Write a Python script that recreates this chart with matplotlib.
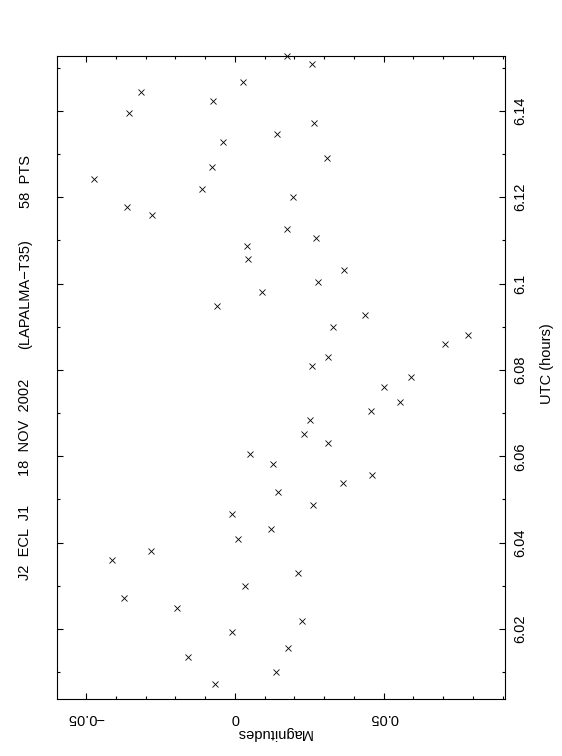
import matplotlib
matplotlib.use("Agg")
import matplotlib.pyplot as plt
from matplotlib.ticker import MultipleLocator

# light curve points (UTC hours, magnitudes)
utc = [6.0073, 6.0100, 6.0134, 6.0156, 6.0192, 6.0219, 6.0248, 6.0272, 6.0300, 6.0330,
       6.0359, 6.0381, 6.0408, 6.0431, 6.0466, 6.0487, 6.0517, 6.0539, 6.0556, 6.0583,
       6.0605, 6.0630, 6.0652, 6.0683, 6.0706, 6.0725, 6.0761, 6.0783, 6.0809, 6.0831,
       6.0861, 6.0880, 6.0900, 6.0927, 6.0947, 6.0980, 6.1003, 6.1032, 6.1056, 6.1086,
       6.1105, 6.1127, 6.1158, 6.1178, 6.1200, 6.1219, 6.1242, 6.1270, 6.1291, 6.1328,
       6.1347, 6.1371, 6.1395, 6.1422, 6.1444, 6.1466, 6.1508, 6.1528]
mag = [-0.0066, 0.0139, -0.0156, 0.0178, -0.0010, 0.0226, -0.0196, -0.0374, 0.0034, 0.0211,
       -0.0412, -0.0283, 0.0011, 0.0120, -0.0009, 0.0262, 0.0146, 0.0362, 0.0462, 0.0127,
       0.0051, 0.0314, 0.0231, 0.0252, 0.0456, 0.0556, 0.0502, 0.0591, 0.0260, 0.0312,
       0.0705, 0.0784, 0.0330, 0.0438, -0.0061, 0.0091, 0.0281, 0.0366, 0.0045, 0.0041,
       0.0273, 0.0176, -0.0277, -0.0363, 0.0196, -0.0111, -0.0474, -0.0076, 0.0309, -0.0041,
       0.0140, 0.0267, -0.0355, -0.0072, -0.0315, 0.0028, 0.0260, 0.0176]

mag_ticks = [-0.05, 0.0, 0.05]
mag_labels = ["\u22120.05", "0", "0.05"]
utc_ticks = [6.02, 6.04, 6.06, 6.08, 6.10, 6.12, 6.14]
utc_labels = ["6.02", "6.04", "6.06", "6.08", "6.1", "6.12", "6.14"]
title_parts = ["J2  ECL  J1", "18  NOV  2002", "(LAPALMA\u2212T35)", "58  PTS"]
title_y = [542, 427, 294, 181]  # pixel centres down the page

plt.rcParams['font.family'] = ['Liberation Sans', 'DejaVu Sans']
W, H = 562, 756
fig = plt.figure(figsize=(W / 100, H / 100), dpi=100)
x0, x1, y0, y1 = 56.7, 505.3, 55.7, 699.3
ax = fig.add_axes([x0 / W, 1 - y1 / H, (x1 - x0) / W, (y1 - y0) / H])

ax.plot(mag, utc, 'x', color='k', ms=4, mew=0.6, clip_on=False)
ax.set_xlim(-0.0599, 0.0909)
ax.set_ylim(6.0037, 6.1528)

ax.set_xticks(mag_ticks)
ax.set_xticklabels(mag_labels, rotation=180, fontsize=10.5)
ax.xaxis.set_minor_locator(MultipleLocator(0.01))
ax.set_yticks(utc_ticks)
ax.set_yticklabels(utc_labels, rotation=90, va='center', fontsize=10.5)
ax.yaxis.set_minor_locator(MultipleLocator(0.01))

ax.tick_params(which='both', direction='in', top=True, right=True, left=True, bottom=True,
               labelleft=False, labelright=True, width=0.8, color='k')
ax.tick_params(which='major', length=4.3)
ax.tick_params(which='minor', length=2.3)
ax.tick_params(axis='x', which='major', pad=8.5)
ax.tick_params(axis='y', which='major', pad=5.5)
for s in ax.spines.values():
    s.set_linewidth(0.8)

fig.text(274 / W, 1 - 733 / H, "Magnitudes", rotation=180, ha='center', va='center', fontsize=10.5)
fig.text(546.5 / W, 1 - 364 / H, "UTC (hours)", rotation=90, ha='center', va='center', fontsize=10.5)
for txt, yp in zip(title_parts, title_y):
    fig.text(25.5 / W, 1 - yp / H, txt, rotation=90, ha='center', va='center', fontsize=10.5)

fig.savefig("out.png", dpi=100)
